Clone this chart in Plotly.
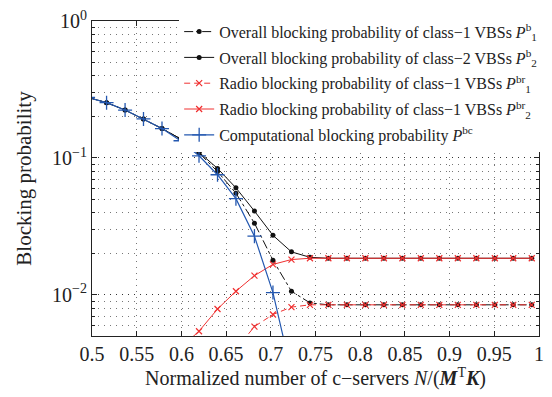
import plotly.graph_objects as go

# normalized number of c-servers N/(M^T K)
x_vals = [0.4956, 0.5163, 0.5370, 0.5576, 0.5783, 0.5990, 0.6197, 0.6404, 0.6610,
          0.6817, 0.7024, 0.7231, 0.7438, 0.7644, 0.7851, 0.8058, 0.8265, 0.8472,
          0.8678, 0.8885, 0.9092, 0.9299, 0.9506, 0.9712, 0.9919]

p1_overall = [0.277, 0.2535, 0.224, 0.193, 0.164, 0.138, 0.109, 0.0796, 0.0553,
              0.0334, 0.0179, 0.01062, 0.00873, 0.00845, 0.00845, 0.00845, 0.00845,
              0.00845, 0.00845, 0.00845, 0.00845, 0.00845, 0.00845, 0.00845, 0.00845]
p2_overall = [0.277, 0.2535, 0.224, 0.193, 0.164, 0.138, 0.110, 0.0839, 0.0605,
              0.0409, 0.0272, 0.0206, 0.0188, 0.0185, 0.0185, 0.0185, 0.0185,
              0.0185, 0.0185, 0.0185, 0.0185, 0.0185, 0.0185, 0.0185, 0.0185]
p1_radio = [None, None, None, None, None, None, None, None, 0.0040,
            0.00586, 0.00718, 0.00813, 0.00845, 0.00845, 0.00845, 0.00845, 0.00845,
            0.00845, 0.00845, 0.00845, 0.00845, 0.00845, 0.00845, 0.00845, 0.00845]
p2_radio = [None, None, None, None, None, 0.0041, 0.00542, 0.00787, 0.01062,
            0.0138, 0.01668, 0.0181, 0.0185, 0.0185, 0.0185, 0.0185, 0.0185,
            0.0185, 0.0185, 0.0185, 0.0185, 0.0185, 0.0185, 0.0185, 0.0185]
p_comp = [0.277, 0.2535, 0.224, 0.193, 0.164, 0.1336, 0.1037, 0.0754, 0.0504,
          0.0268, 0.01038, 0.0027, None, None, None, None, None,
          None, None, None, None, None, None, None, None]

names = [
    "Overall blocking probability of class\u22121 VBSs <i>P</i><sup>b</sup><sub>1</sub>",
    "Overall blocking probability of class\u22122 VBSs <i>P</i><sup>b</sup><sub>2</sub>",
    "Radio blocking probability of class\u22121 VBSs <i>P</i><sup>br</sup><sub>1</sub>",
    "Radio blocking probability of class\u22121 VBSs <i>P</i><sup>br</sup><sub>2</sub>",
    "Computational blocking probability <i>P</i><sup>bc</sup>",
]

BLACK = "#111111"
RED = "#f03030"
BLUE = "#2458b0"

fig = go.Figure()
fig.add_trace(go.Scatter(x=x_vals, y=p1_overall, name=names[0], mode="lines+markers",
                         legendgroup="g1",
                         line=dict(color=BLACK, width=1, dash="dashdot"),
                         marker=dict(symbol="circle", size=5, color=BLACK)))
fig.add_trace(go.Scatter(x=x_vals, y=p2_overall, name=names[1], mode="lines+markers",
                         legendgroup="g2",
                         line=dict(color=BLACK, width=1),
                         marker=dict(symbol="circle", size=5, color=BLACK)))
fig.add_trace(go.Scatter(x=x_vals, y=p1_radio, name=names[2], mode="lines+markers",
                         legendgroup="g3",
                         line=dict(color=RED, width=1, dash="6px,4px"),
                         marker=dict(symbol="x-thin", size=6, line=dict(color=RED, width=1.2))))
fig.add_trace(go.Scatter(x=x_vals, y=p2_radio, name=names[3], mode="lines+markers",
                         legendgroup="g4",
                         line=dict(color=RED, width=1),
                         marker=dict(symbol="x-thin", size=6, line=dict(color=RED, width=1.2))))
fig.add_trace(go.Scatter(x=x_vals, y=p_comp, name=names[4], mode="lines+markers",
                         legendgroup="g5",
                         line=dict(color=BLUE, width=1.2),
                         marker=dict(symbol="cross-thin", size=10, line=dict(color=BLUE, width=1.3))))

FONT = "Liberation Serif"
x_ticks = [0.5, 0.55, 0.6, 0.65, 0.7, 0.75, 0.8, 0.85, 0.9, 0.95, 1]
x_ticktext = ["0.5", "0.55", "0.6", "0.65", "0.7", "0.75", "0.8", "0.85", "0.9", "0.95", "1"]
y_ticks = [1, 0.1, 0.01]
y_ticktext = ["10<sup>0</sup>", "10<sup>\u22121</sup>", "10<sup>\u22122</sup>"]
y_minor = [0.005, 0.006, 0.007, 0.008, 0.009, 0.02, 0.03, 0.04, 0.05, 0.06, 0.07, 0.08, 0.09,
           0.2, 0.3, 0.4, 0.5, 0.6, 0.7, 0.8, 0.9]

GRID = "#777777"
GRID_MAJOR = "#333333"
DOT = "1px,5px"

fig.update_layout(
    width=552, height=397,
    margin=dict(l=92, r=8, t=12, b=61),
    paper_bgcolor="white", plot_bgcolor="white",
    font=dict(family=FONT, size=20, color="#222222"),
    showlegend=True,
    legend=dict(x=0.195, y=1.02, xanchor="left", yanchor="top",
                bgcolor="white", borderwidth=0,
                font=dict(size=16, family=FONT, color="#222222"),
                tracegroupgap=2, itemwidth=30),
    xaxis=dict(range=[0.5, 1], tickmode="array", tickvals=x_ticks, ticktext=x_ticktext,
               showline=True, linecolor="#222222", linewidth=1.2, mirror="ticks",
               ticks="inside", ticklen=5, tickcolor="#222222",
               showgrid=True, gridcolor=GRID, griddash=DOT, gridwidth=1,
               zeroline=False, tickfont=dict(size=20, family=FONT),
               title=dict(text="Normalized number of c\u2212servers <i>N</i>/(<b><i>M</i></b><sup>T</sup><b><i>K</i></b>)",
                          font=dict(size=20, family=FONT), standoff=4)),
    yaxis=dict(type="log", range=[-2.301, 0.0008], tickmode="array", tickvals=y_ticks,
               ticktext=y_ticktext, ticklabeloverflow="allow",
               showline=True, linecolor="#222222", linewidth=1.2, mirror="ticks",
               ticks="inside", ticklen=5, tickcolor="#222222",
               showgrid=True, gridcolor=GRID_MAJOR, griddash=DOT, gridwidth=1,
               zeroline=False, tickfont=dict(size=20, family=FONT),
               minor=dict(tickmode="array", tickvals=y_minor, ticks="inside", ticklen=3,
                          tickcolor="#222222", showgrid=True, gridcolor=GRID,
                          griddash=DOT, gridwidth=1),
               title=dict(text="Blocking probability", font=dict(size=21, family=FONT), standoff=14)),
)

fig.write_html("out.html")
